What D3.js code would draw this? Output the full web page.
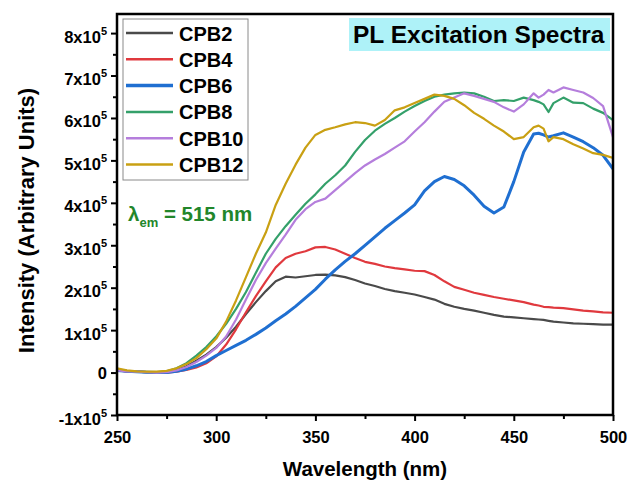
<!DOCTYPE html>
<html>
<head>
<meta charset="utf-8">
<script src="https://cdn.jsdelivr.net/npm/d3@7"></script>
<style>
  body { margin: 0; background: #fff; }
  text { font-family: Arial, "Liberation Sans", sans-serif; font-weight: bold; }
</style>
</head>
<body>
<div id="chart"></div>
<script>
// wavelength (nm) and intensity (x10^5, arbitrary units)
const wavelength = [250,255,260,265,270,275,280,285,290,295,
  300,305,310,315,320,325,330,335,340,345,
  350,355,360,365,370,375,380,385,390,395,
  400,405,410,415,420,425,430,435,440,445,
  450,455,460,462.5,465,467.5,470,475,480,485,
  490,495,500];

const cpb2 = [0.06,0.03,0.02,0.01,0.00,0.01,0.05,0.15,0.28,0.42,
  0.60,0.82,1.08,1.38,1.66,1.92,2.15,2.26,2.24,2.27,
  2.30,2.31,2.29,2.25,2.18,2.10,2.04,1.97,1.92,1.88,
  1.84,1.78,1.72,1.62,1.55,1.50,1.46,1.41,1.36,1.32,
  1.30,1.28,1.26,1.25,1.24,1.22,1.20,1.18,1.16,1.15,
  1.14,1.13,1.13];

const cpb4 = [0.05,0.03,0.02,0.01,0.00,0.00,0.02,0.06,0.12,0.22,
  0.38,0.66,1.02,1.42,1.80,2.15,2.48,2.70,2.80,2.86,
  2.95,2.96,2.90,2.80,2.70,2.61,2.56,2.50,2.46,2.43,
  2.40,2.39,2.30,2.15,2.02,1.95,1.88,1.83,1.78,1.74,
  1.70,1.66,1.60,1.58,1.55,1.54,1.53,1.52,1.49,1.46,
  1.44,1.42,1.41];

const cpb6 = [0.05,0.03,0.02,0.01,0.00,0.00,0.03,0.08,0.16,0.26,
  0.40,0.52,0.64,0.76,0.90,1.05,1.22,1.38,1.56,1.76,
  1.96,2.20,2.42,2.62,2.80,3.00,3.20,3.40,3.58,3.76,
  3.95,4.28,4.50,4.62,4.55,4.40,4.18,3.92,3.76,3.90,
  4.50,5.20,5.62,5.64,5.60,5.55,5.58,5.65,5.55,5.44,
  5.30,5.12,4.80];

const cpb8 = [0.07,0.04,0.02,0.01,0.01,0.03,0.10,0.22,0.40,0.60,
  0.85,1.15,1.50,1.90,2.35,2.80,3.15,3.45,3.72,3.98,
  4.20,4.45,4.65,4.88,5.20,5.48,5.70,5.86,6.00,6.15,
  6.28,6.40,6.50,6.55,6.58,6.60,6.58,6.50,6.40,6.42,
  6.40,6.48,6.42,6.38,6.32,6.14,6.35,6.48,6.36,6.35,
  6.22,6.12,5.95];

const cpb10 = [0.05,0.03,0.02,0.01,0.00,0.01,0.05,0.13,0.25,0.40,
  0.58,0.85,1.25,1.72,2.18,2.58,2.92,3.25,3.60,3.85,
  4.02,4.10,4.30,4.50,4.70,4.88,5.02,5.15,5.30,5.45,
  5.68,5.90,6.15,6.38,6.48,6.58,6.52,6.45,6.38,6.25,
  6.15,6.32,6.58,6.48,6.55,6.66,6.60,6.72,6.66,6.60,
  6.47,6.28,5.55];

const cpb12 = [0.10,0.05,0.03,0.02,0.02,0.04,0.10,0.20,0.34,0.55,
  0.80,1.20,1.70,2.25,2.80,3.30,3.95,4.45,4.90,5.30,
  5.60,5.72,5.78,5.85,5.90,5.88,5.82,5.95,6.18,6.25,
  6.35,6.45,6.55,6.52,6.45,6.30,6.12,5.98,5.82,5.68,
  5.50,5.55,5.78,5.82,5.75,5.45,5.55,5.50,5.38,5.28,
  5.17,5.13,5.06];

const seriesNames = ["CPB2", "CPB4", "CPB6", "CPB8", "CPB10", "CPB12"];
const seriesValues = [cpb2, cpb4, cpb6, cpb8, cpb10, cpb12];
const seriesColors = ["#4a4a4a", "#e0393e", "#1f6fd1", "#34a06a", "#b57edc", "#c9a013"];

const xTicks = [250, 300, 350, 400, 450, 500];
const yTicks = [-1, 0, 1, 2, 3, 4, 5, 6, 7, 8];

const width = 630, height = 484;
const margin = { top: 14, right: 17, bottom: 69, left: 117 };

const svg = d3.select("#chart").append("svg")
    .attr("width", width)
    .attr("height", height);

const x = d3.scaleLinear().domain([250, 500]).range([margin.left, width - margin.right]);
const y = d3.scaleLinear().domain([-1, 8.45]).range([height - margin.bottom, margin.top]);

svg.append("clipPath").attr("id", "plot-clip")
  .append("rect")
    .attr("x", margin.left).attr("y", margin.top)
    .attr("width", x.range()[1] - margin.left)
    .attr("height", y.range()[0] - margin.top);

// spectra
const line = d3.line()
    .x((d, i) => x(wavelength[i]))
    .y(d => y(d));

svg.append("g").attr("clip-path", "url(#plot-clip)")
  .selectAll("path")
  .data(seriesValues)
  .join("path")
    .attr("fill", "none")
    .attr("stroke", (d, i) => seriesColors[i])
    .attr("stroke-width", (d, i) => i === 2 ? 3 : 2.2)
    .attr("stroke-linejoin", "round")
    .attr("d", line);

// x axis
const xAxis = svg.append("g")
    .attr("transform", `translate(0,${y.range()[0]})`)
    .call(d3.axisBottom(x).tickValues(xTicks).tickSize(6).tickPadding(10).tickFormat(d3.format("d")));
xAxis.select(".domain").remove();
xAxis.selectAll(".tick line").attr("stroke", "#000").attr("stroke-width", 2);
xAxis.selectAll(".tick text").attr("font-size", 16.5).attr("fill", "#000");

svg.append("g")
    .attr("transform", `translate(0,${y.range()[0]})`)
    .call(d3.axisBottom(x).tickValues(d3.range(275, 500, 50)).tickSize(4).tickFormat(""))
    .call(g => g.select(".domain").remove())
    .selectAll(".tick line").attr("stroke", "#000").attr("stroke-width", 2);

// y axis
const yAxis = svg.append("g")
    .attr("transform", `translate(${margin.left},0)`)
    .call(d3.axisLeft(y).tickValues(yTicks).tickSize(6).tickPadding(4));
yAxis.select(".domain").remove();
yAxis.selectAll(".tick line").attr("stroke", "#000").attr("stroke-width", 2);
yAxis.selectAll(".tick text")
    .attr("font-size", 16.5)
    .attr("fill", "#000")
    .attr("dy", null)
    .each(function(v) {
        const t = d3.select(this).text(null);
        if (v === 0) {
            t.attr("y", 6).text("0");
        } else {
            t.attr("y", 9);
            t.append("tspan").text(`${v}x10`);
            t.append("tspan").attr("dy", -8).attr("font-size", 11).text("5");
        }
    });

svg.append("g")
    .attr("transform", `translate(${margin.left},0)`)
    .call(d3.axisLeft(y).tickValues(d3.range(-0.5, 8.4, 1)).tickSize(4).tickFormat(""))
    .call(g => g.select(".domain").remove())
    .selectAll(".tick line").attr("stroke", "#000").attr("stroke-width", 2);

// frame
svg.append("rect")
    .attr("x", margin.left).attr("y", margin.top)
    .attr("width", x.range()[1] - margin.left)
    .attr("height", y.range()[0] - margin.top)
    .attr("fill", "none")
    .attr("stroke", "#000")
    .attr("stroke-width", 2.5);

// axis titles
svg.append("text")
    .attr("x", (x.range()[0] + x.range()[1]) / 2)
    .attr("y", 476)
    .attr("text-anchor", "middle")
    .attr("font-size", 20.5)
    .text("Wavelength (nm)");

svg.append("text")
    .attr("transform", `translate(34,${(y.range()[0] + y.range()[1]) / 2 + 6}) rotate(-90)`)
    .attr("text-anchor", "middle")
    .attr("font-size", 22)
    .text("Intensity (Arbitrary Units)");

// legend
const legend = svg.append("g");
legend.append("rect")
    .attr("x", 123).attr("y", 19)
    .attr("width", 125).attr("height", 161)
    .attr("fill", "#fff")
    .attr("stroke", "#8a8a8a")
    .attr("stroke-width", 1);

const entry = legend.selectAll("g.entry")
  .data(seriesNames)
  .join("g")
    .attr("class", "entry")
    .attr("transform", (d, i) => `translate(0,${33 + i * 26.3})`);

entry.append("line")
    .attr("x1", 126).attr("x2", 173)
    .attr("stroke", (d, i) => seriesColors[i])
    .attr("stroke-width", (d, i) => i === 2 ? 3.5 : 2.5);

entry.append("text")
    .attr("x", 179).attr("y", 7.5)
    .attr("font-size", 20)
    .attr("fill", "#000")
    .text(d => d);

// title box
svg.append("rect")
    .attr("x", 349).attr("y", 18)
    .attr("width", 261).attr("height", 33)
    .attr("fill", "#aef2f8");
svg.append("text")
    .attr("x", 353).attr("y", 43)
    .attr("font-size", 24.5)
    .attr("fill", "#000")
    .text("PL Excitation Spectra");

// emission wavelength note
const note = svg.append("text")
    .attr("x", 128).attr("y", 221)
    .attr("font-size", 20.5)
    .attr("fill", "#22862a");
note.append("tspan").text("λ");
note.append("tspan").attr("dy", 6).attr("font-size", 13).text("em");
note.append("tspan").attr("dy", -6).text(" = 515 nm");
</script>
</body>
</html>
